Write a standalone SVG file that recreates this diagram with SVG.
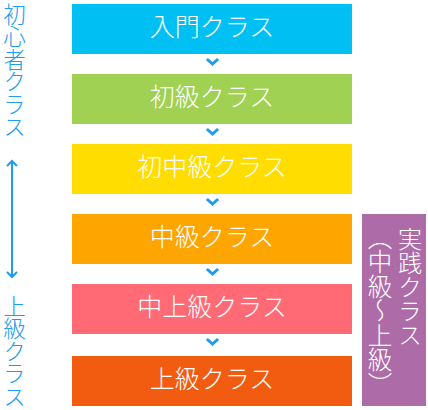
<svg xmlns="http://www.w3.org/2000/svg" width="428" height="410" viewBox="0 0 428 410">
<style>
.box text{font-family:"Noto Sans CJK JP","Noto Sans",sans-serif;font-weight:300;font-size:25px;fill:#ffffff;text-anchor:middle;dominant-baseline:central}
.side{font-family:"Noto Sans CJK JP","Noto Sans",sans-serif;font-weight:300;fill:#1e9cf0;writing-mode:vertical-rl;font-size:22.5px}
.pv{font-family:"Noto Sans CJK JP","Noto Sans",sans-serif;font-weight:300;fill:#ffffff;writing-mode:vertical-rl;font-size:24px}
.chev{fill:none;stroke:#1e9cf0;stroke-width:3;stroke-linecap:square;stroke-linejoin:miter}
.arr{fill:none;stroke:#1e9cf0;stroke-width:2}
</style>
<rect width="428" height="410" fill="#ffffff"/>
<g id="label-beginner">
<text class="side" x="14.5" y="3">初心者クラス</text>
</g>
<g id="label-advanced">
<text class="side" x="14.5" y="295">上級クラス</text>
</g>
<g id="node-intro" class="box">
<rect x="72" y="4" width="280" height="50" fill="#00bff3"/>
<text x="212" y="25">入門クラス</text>
</g>
<g id="node-beginner" class="box">
<rect x="72" y="74" width="280" height="50" fill="#a0d152"/>
<text x="212" y="95">初級クラス</text>
</g>
<g id="node-pre-intermediate" class="box">
<rect x="72" y="144" width="280" height="50" fill="#ffdd00"/>
<text x="212" y="165">初中級クラス</text>
</g>
<g id="node-intermediate" class="box">
<rect x="72" y="214" width="280" height="50" fill="#ffa500"/>
<text x="212" y="235">中級クラス</text>
</g>
<g id="node-upper-intermediate" class="box">
<rect x="72" y="284" width="280" height="50" fill="#ff6a74"/>
<text x="212" y="305">中上級クラス</text>
</g>
<g id="node-advanced" class="box">
<rect x="72" y="356" width="280" height="50" fill="#f25c10"/>
<text x="212" y="377">上級クラス</text>
</g>
<g id="node-practice">
<rect x="362" y="214" width="64" height="192" fill="#ad6ba8"/>
<text class="pv" x="410" y="227">実践クラス</text>
<text class="pv" x="380" y="225" style="font-size:24.5px">（中級～上級）</text>
</g>
<g id="connectors">
<polyline class="chev" points="208,60 212.5,64 217,60"/>
<polyline class="chev" points="208,130 212.5,134 217,130"/>
<polyline class="chev" points="208,200 212.5,204 217,200"/>
<polyline class="chev" points="208,270 212.5,274 217,270"/>
<polyline class="chev" points="208,340 212.5,344 217,340"/>
<line class="arr" x1="12" y1="161" x2="12" y2="277"/>
<polyline class="arr" points="7,166 12,161 17,166"/>
<polyline class="arr" points="7,272 12,277 17,272"/>
</g>
</svg>
